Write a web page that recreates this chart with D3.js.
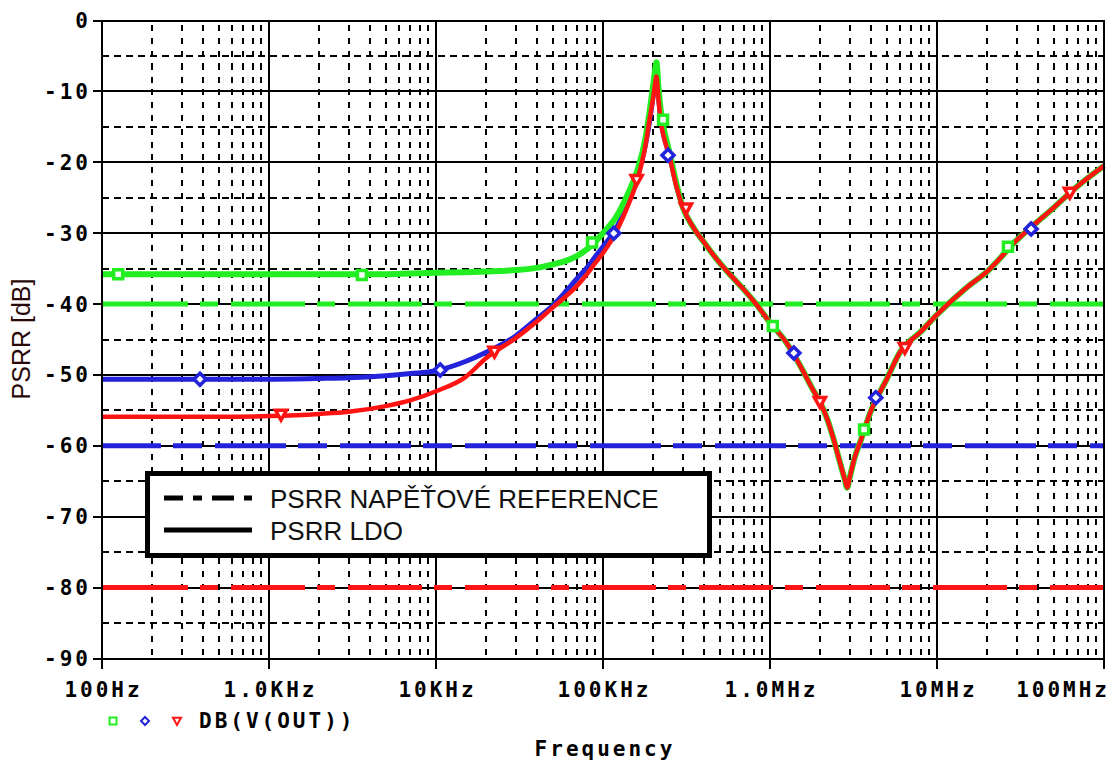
<!DOCTYPE html>
<html><head><meta charset="utf-8">
<script src="https://cdn.jsdelivr.net/npm/d3@7"></script>
<style>
html,body{margin:0;padding:0;background:#fff;}
svg{display:block;}
</style></head>
<body>
<svg id="c" width="1112" height="763"></svg>
<script>
// ---------------- DATA ----------------
const freqs = [100,200,500,1e3,2e3,3e3,5e3,7e3,1e4,1.5e4,2e4,3e4,4e4,5e4,6e4,7e4,8e4,9e4,1e5,1.2e5,1.4e5,1.6e5,1.8e5,1.91e5,2e5,2.05e5,2.09e5,2.15e5,2.22e5,2.3e5,2.5e5,2.75e5,3e5,3.5e5,4e5,5e5,6e5,7e5,8e5,1e6,1.25e6,1.5e6,1.8e6,2e6,2.2e6,2.4e6,2.6e6,2.8e6,2.9e6,3e6,3.2e6,3.5e6,4e6,5e6,6e6,8e6,1e7,1.5e7,2e7,3e7,5e7,7e7,1e8];
const greenDb = [-35.8,-35.8,-35.8,-35.8,-35.8,-35.8,-35.8,-35.7,-35.6,-35.5,-35.4,-35.2,-34.9,-34.4,-33.9,-33.2,-32.3,-31.2,-30.0,-27.7,-24.6,-21.3,-16.5,-12.5,-9.0,-7.0,-5.9,-9.5,-12.8,-15.0,-18.6,-23.0,-26.3,-29.3,-31.2,-34.2,-36.3,-38.0,-39.6,-42.6,-45.4,-48.5,-52.0,-53.9,-56.2,-59.0,-62.0,-64.7,-65.9,-64.5,-61.8,-59.2,-55.2,-50.6,-46.8,-43.9,-41.5,-37.7,-35.4,-31.0,-26.4,-23.3,-20.5];
const blueDb  = [-50.6,-50.6,-50.6,-50.6,-50.5,-50.4,-50.1,-49.8,-49.4,-48.1,-46.8,-44.5,-42.1,-40.2,-38.2,-36.4,-34.9,-33.3,-31.9,-29.3,-25.8,-22.2,-17.4,-13.9,-10.5,-8.6,-7.6,-10.8,-14.0,-16.0,-19.0,-23.2,-26.3,-29.3,-31.2,-34.2,-36.3,-38.0,-39.6,-42.6,-45.4,-48.5,-52.0,-53.9,-56.2,-59.0,-62.0,-64.7,-65.9,-64.5,-61.8,-59.2,-55.2,-50.6,-46.8,-43.9,-41.5,-37.7,-35.4,-31.0,-26.4,-23.3,-20.5];
const redDb   = [-55.9,-55.9,-55.9,-55.8,-55.5,-55.2,-54.4,-53.6,-52.3,-50.3,-47.6,-44.8,-42.5,-40.5,-38.9,-37.4,-35.8,-34.2,-32.8,-29.8,-26.3,-22.6,-17.5,-13.6,-10.8,-9.0,-7.9,-11.2,-14.3,-16.2,-19.2,-23.4,-26.3,-29.3,-31.2,-34.2,-36.3,-38.0,-39.6,-42.6,-45.4,-48.5,-52.0,-53.9,-56.2,-59.0,-62.0,-64.7,-65.9,-64.5,-61.8,-59.2,-55.2,-50.6,-46.8,-43.9,-41.5,-37.7,-35.4,-31.0,-26.4,-23.3,-20.5];

const greenMarkF = [125,3.6e3,8.6e4,2.29e5,1.04e6,3.66e6,2.66e7];
const greenMarkDb = [-35.8,-35.9,-31.3,-14.0,-43.1,-57.7,-31.9];
const blueMarkF = [386,1.06e4,1.16e5,2.45e5,1.39e6,4.3e6,3.66e7];
const blueMarkDb = [-50.6,-49.3,-30.0,-19.0,-46.9,-53.2,-29.4];
const redMarkF = [1.18e3,2.24e4,1.59e5,3.14e5,1.99e6,6.42e6,6.25e7];
const redMarkDb = [-55.6,-46.7,-22.5,-26.5,-53.8,-46.2,-24.3];

const refLevels = [-40,-60,-80];           // green, blue, red reference lines
const yTicks = [0,-10,-20,-30,-40,-50,-60,-70,-80,-90];
const yTickLabels = ["0","-10","-20","-30","-40","-50","-60","-70","-80","-90"];
const xTicks = [1e2,1e3,1e4,1e5,1e6,1e7,1e8];
const xTickLabels = ["100Hz","1.0KHz","10KHz","100KHz","1.0MHz","10MHz","100MHz"];
const legendLabels = ["PSRR NAPĚŤOVÉ REFERENCE","PSRR LDO"];
const traceLabel = "DB(V(OUT))";
const xTitle = "Frequency";
const yTitle = "PSRR [dB]";

// ---------------- STYLE ----------------
const GREEN="#22ee22", BLUE="#2323dc", RED="#ff1414";
const MONO="'DejaVu Sans Mono', monospace";
const SANS="'Liberation Sans', Arial, sans-serif";

const svg = d3.select("#c");
const L=102, R=1104, T=20.5, B=658.5;
const x = d3.scaleLog().domain([1e2,1e8]).range([L,R]);
const y = d3.scaleLinear().domain([-90,0]).range([B,T]);

// ---- grid ----
const g = svg.append("g");
const minorF = [];
for (let d=1e2; d<1e8; d*=10) for (let k=2;k<=9;k++) minorF.push(d*k);
g.selectAll(".vmin").data(minorF).join("line")
  .attr("x1",d=>Math.round(x(d))).attr("x2",d=>Math.round(x(d)))
  .attr("y1",T+4).attr("y2",B)
  .attr("stroke","#000").attr("stroke-width",2).attr("stroke-dasharray","6,7")
  .attr("shape-rendering","crispEdges");
const minorY = d3.range(-85,0,10);
g.selectAll(".hmin").data(minorY).join("line")
  .attr("x1",L).attr("x2",R)
  .attr("y1",d=>Math.round(y(d))).attr("y2",d=>Math.round(y(d)))
  .attr("stroke","#000").attr("stroke-width",1.6).attr("stroke-dasharray","7,5")
  .attr("shape-rendering","crispEdges");
g.selectAll(".vmaj").data(xTicks).join("line")
  .attr("x1",d=>Math.round(x(d))).attr("x2",d=>Math.round(x(d)))
  .attr("y1",T).attr("y2",B+10)
  .attr("stroke","#000").attr("stroke-width",2).attr("shape-rendering","crispEdges");
g.selectAll(".hmaj").data(yTicks).join("line")
  .attr("x1",L-9).attr("x2",R)
  .attr("y1",d=>Math.round(y(d))).attr("y2",d=>Math.round(y(d)))
  .attr("stroke","#000").attr("stroke-width",2).attr("shape-rendering","crispEdges");
g.append("line").attr("x1",R).attr("x2",R).attr("y1",T).attr("y2",B)
  .attr("stroke","#000").attr("stroke-width",2).attr("shape-rendering","crispEdges");

// ---- axis labels ----
svg.append("g").selectAll("text").data(yTicks).join("text")
  .attr("x",91).attr("y",d=>y(d)+7.5)
  .attr("text-anchor","end")
  .attr("font-family",MONO).attr("font-weight","bold").attr("font-size",21)
  .attr("letter-spacing",3)
  .text((d,i)=>yTickLabels[i]);
svg.append("g").selectAll("text").data(xTicks).join("text")
  .attr("x",(d,i)=> i===xTicks.length-1 ? x(d)+6 : x(d)+1.5)
  .attr("y",697)
  .attr("text-anchor",(d,i)=> i===xTicks.length-1 ? "end" : "middle")
  .attr("font-family",MONO).attr("font-weight","bold").attr("font-size",21)
  .attr("letter-spacing",3)
  .text((d,i)=>xTickLabels[i]);
svg.append("text").attr("x",605).attr("y",756).attr("text-anchor","middle")
  .attr("font-family",MONO).attr("font-weight","bold").attr("font-size",21)
  .attr("letter-spacing",3).text(xTitle);
svg.append("text").attr("transform","translate(30,339) rotate(-90)")
  .attr("text-anchor","middle")
  .attr("font-family",SANS).attr("font-size",25).attr("fill","#2a0808")
  .text(yTitle);

// ---- reference dash-dot lines ----
function dashPattern(first, pat, n){ let a=first.slice(); for(let i=0;i<n;i++) a=a.concat(pat); return a.join(","); }
const refColors=[GREEN,BLUE,RED];
const refDash=[dashPattern([86,12,18,13],[74,12,18,13],10),
               dashPattern([59,12,29,13],[71,12,29,13],10),
               dashPattern([86,12,18,13],[74,12,18,13],10)];
svg.append("g").selectAll("line").data(refLevels).join("line")
  .attr("x1",L).attr("x2",R)
  .attr("y1",d=>y(d)).attr("y2",d=>y(d))
  .attr("stroke",(d,i)=>refColors[i]).attr("stroke-width",5)
  .attr("stroke-dasharray",(d,i)=>refDash[i]);

// ---- curves ----
const line = d3.line().x(d=>x(d[0])).y(d=>y(d[1])).curve(d3.curveMonotoneX);
const series = [
  {v:blueDb, c:BLUE, w:5},
  {v:greenDb, c:GREEN, w:6},
  {v:redDb, c:RED, w:4.5}
];
series.forEach(s=>{
  svg.append("path").datum(freqs.map((f,i)=>[f,s.v[i]]))
    .attr("d",line).attr("fill","none").attr("stroke",s.c)
    .attr("stroke-width",s.w).attr("stroke-linejoin","round");
});

// ---- markers ----
function sq(r){return `M${-r},${-r}H${r}V${r}H${-r}Z`;}
function dia(r){return `M0,${-r}L${r},0L0,${r}L${-r},0Z`;}
function tri(r){return `M${-r},${-r*0.8}L${r},${-r*0.8}L0,${r}Z`;}
const mk = svg.append("g");
mk.selectAll(".gm").data(greenMarkF).join("path")
  .attr("transform",(d,i)=>`translate(${x(d)},${y(greenMarkDb[i])})`)
  .attr("d",sq(4.5)).attr("fill","#fff").attr("stroke",GREEN).attr("stroke-width",3.5);
mk.selectAll(".bm").data(blueMarkF).join("path")
  .attr("transform",(d,i)=>`translate(${x(d)},${y(blueMarkDb[i])})`)
  .attr("d",dia(6)).attr("fill","#fff").attr("stroke",BLUE).attr("stroke-width",3.5);
mk.selectAll(".rm").data(redMarkF).join("path")
  .attr("transform",(d,i)=>`translate(${x(d)},${y(redMarkDb[i])})`)
  .attr("d",tri(5.5)).attr("fill","#fff").attr("stroke",RED).attr("stroke-width",3.5);

// ---- frame ----
svg.append("rect").attr("x",L).attr("y",T).attr("width",R-L).attr("height",B-T)
  .attr("fill","none").attr("stroke","#000").attr("stroke-width",2).attr("shape-rendering","crispEdges");

// ---- legend box ----
const lg = svg.append("g");
lg.append("rect").attr("x",147.5).attr("y",473.5).attr("width",562).attr("height",82)
  .attr("fill","#fff").attr("stroke","#000").attr("stroke-width",5);
lg.append("line").attr("x1",164).attr("x2",252).attr("y1",498).attr("y2",498)
  .attr("stroke","#000").attr("stroke-width",5).attr("stroke-dasharray","19,10,9,10,22,10,8");
lg.append("line").attr("x1",164).attr("x2",252).attr("y1",530).attr("y2",530)
  .attr("stroke","#000").attr("stroke-width",5);
lg.selectAll("text").data(legendLabels).join("text")
  .attr("x",270).attr("y",(d,i)=>508+i*32)
  .attr("font-family",SANS).attr("font-size",26).attr("fill","#111")
  .text(d=>d);

// ---- trace legend ----
const tl = svg.append("g");
tl.append("path").attr("transform","translate(113,721)").attr("d",sq(3.5))
  .attr("fill","#fff").attr("stroke",GREEN).attr("stroke-width",2);
tl.append("path").attr("transform","translate(145,721)").attr("d",dia(4))
  .attr("fill","#fff").attr("stroke",BLUE).attr("stroke-width",2);
tl.append("path").attr("transform","translate(177,721)").attr("d",tri(4))
  .attr("fill","#fff").attr("stroke",RED).attr("stroke-width",2);
tl.append("text").attr("x",199).attr("y",728)
  .attr("font-family",MONO).attr("font-weight","bold").attr("font-size",21)
  .attr("letter-spacing",3).text(traceLabel);
</script>
</body></html>
